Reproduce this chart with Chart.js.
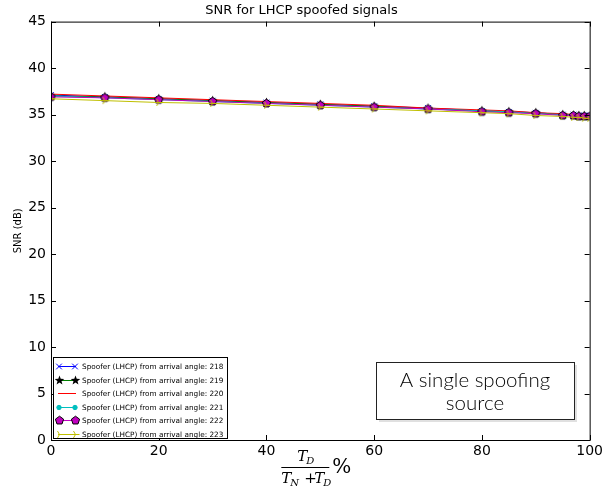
<!DOCTYPE html>
<html lang="en">
<head>
<meta charset="UTF-8">
<title>SNR for LHCP spoofed signals</title>
<script src="https://cdn.jsdelivr.net/npm/chart.js@4.4.1/dist/chart.umd.min.js"></script>
<style>
  html, body { margin: 0; padding: 0; background: #fff; }
  #wrap { width: 606px; height: 491px; }
</style>
</head>
<body>
<div id="wrap"><canvas id="snr" width="606" height="491"></canvas></div>
<script>
// ---------- data ----------
const xPct = [0, 10, 20, 30, 40, 50, 60, 70, 80, 85, 90, 95, 97, 98, 99, 100];
const snr218 = [37.1, 36.9, 36.7, 36.5, 36.3, 36.1, 35.9, 35.7, 35.4, 35.3, 35.2, 35.0, 35.0, 34.9, 34.9, 34.9];
const snr219 = [37.0, 36.9, 36.7, 36.5, 36.3, 36.1, 35.9, 35.6, 35.4, 35.3, 35.2, 35.0, 34.9, 34.9, 34.9, 34.8];
const snr220 = [37.2, 37.0, 36.8, 36.6, 36.4, 36.2, 36.0, 35.7, 35.5, 35.4, 35.2, 35.1, 35.0, 35.0, 34.9, 34.9];
const snr221 = [37.0, 36.8, 36.6, 36.4, 36.2, 36.0, 35.8, 35.6, 35.4, 35.3, 35.1, 35.0, 34.9, 34.9, 34.8, 34.8];
const snr222 = [36.9, 36.8, 36.6, 36.4, 36.2, 36.0, 35.8, 35.6, 35.3, 35.2, 35.1, 34.9, 34.9, 34.8, 34.8, 34.8];
const snr223 = [36.7, 36.5, 36.3, 36.2, 36.0, 35.8, 35.6, 35.4, 35.2, 35.1, 34.9, 34.8, 34.7, 34.7, 34.6, 34.6];
const angles = [218, 219, 220, 221, 222, 223];
const xTicks = [0, 20, 40, 60, 80, 100];
const yTicks = [0, 5, 10, 15, 20, 25, 30, 35, 40, 45];

// ---------- custom marker canvases ----------
function markerCanvas(size, draw) {
  const c = document.createElement('canvas');
  c.width = size; c.height = size;
  const g = c.getContext('2d');
  draw(g, size / 2);
  return c;
}
function polyPath(g, cx, n, r, inner) {
  g.beginPath();
  const steps = inner ? n * 2 : n;
  for (let i = 0; i < steps; i++) {
    const a = -Math.PI / 2 + i * Math.PI * 2 / steps;
    const rr = inner && i % 2 ? inner : r;
    const px = cx + rr * Math.cos(a), py = cx + rr * Math.sin(a);
    i ? g.lineTo(px, py) : g.moveTo(px, py);
  }
  g.closePath();
}
const starMk = markerCanvas(11, (g, c) => {
  polyPath(g, c, 5, 5, 2.1);
  g.fillStyle = '#000'; g.fill();
});
const pentMk = markerCanvas(11, (g, c) => {
  polyPath(g, c, 5, 4.3);
  g.fillStyle = '#bf00bf'; g.fill();
  g.lineWidth = 1; g.strokeStyle = '#000'; g.stroke();
});
const triMk = markerCanvas(11, (g, c) => {
  g.strokeStyle = '#bfbf00'; g.lineWidth = 1;
  g.beginPath();
  [0, 120, 240].forEach(d => {
    const a = d * Math.PI / 180;
    g.moveTo(c, c); g.lineTo(c + 4 * Math.cos(a), c + 4 * Math.sin(a));
  });
  g.stroke();
});

function pts(ys) { return xPct.map((x, i) => ({ x: x, y: ys[i] })); }

const seriesStyle = [
  { data: snr218, color: '#0000ff', point: 'crossRot', radius: 4, bg: '#0000ff', pb: '#0000ff' },
  { data: snr219, color: '#008000', point: starMk, radius: 5, bg: '#000', pb: '#000' },
  { data: snr220, color: '#ff0000', point: 'circle', radius: 0, bg: '#ff0000', pb: '#ff0000' },
  { data: snr221, color: '#00bfbf', point: 'circle', radius: 2.2, bg: '#00bfbf', pb: '#00bfbf' },
  { data: snr222, color: '#bf00bf', point: pentMk, radius: 5, bg: '#bf00bf', pb: '#000' },
  { data: snr223, color: '#bfbf00', point: triMk, radius: 4, bg: '#bfbf00', pb: '#bfbf00' }
];

const datasets = seriesStyle.map((s, i) => ({
  label: 'Spoofer (LHCP) from arrival angle: ' + angles[i],
  data: pts(s.data),
  order: seriesStyle.length - i,
  borderColor: s.color,
  backgroundColor: s.bg,
  borderWidth: 1,
  pointStyle: s.point,
  pointRadius: s.radius,
  pointBorderColor: s.pb,
  pointBackgroundColor: s.bg,
  pointBorderWidth: 1,
  tension: 0
}));

// ---------- plugins ----------
const frame = {
  id: 'frame',
  afterDraw(chart) {
    const { ctx, chartArea: a, scales: { x, y } } = chart;
    ctx.save();
    ctx.strokeStyle = '#000';
    ctx.lineWidth = 1;
    ctx.strokeRect(a.left + 0.5, a.top + 0.5, a.right - a.left, a.bottom - a.top);
    ctx.beginPath();
    xTicks.forEach(v => {
      const px = Math.round(x.getPixelForValue(v)) + 0.5;
      ctx.moveTo(px, a.bottom); ctx.lineTo(px, a.bottom - 5);
      ctx.moveTo(px, a.top); ctx.lineTo(px, a.top + 5);
    });
    yTicks.forEach(v => {
      const py = Math.round(y.getPixelForValue(v)) + 0.5;
      ctx.moveTo(a.left, py); ctx.lineTo(a.left + 5, py);
      ctx.moveTo(a.right, py); ctx.lineTo(a.right - 5, py);
    });
    ctx.stroke();

    // legend box, bottom-left
    const lx = a.left + 2, ly = a.bottom - 83, lw = 174, lh = 81;
    ctx.fillStyle = '#fff';
    ctx.fillRect(lx, ly, lw, lh);
    ctx.strokeRect(lx + 0.5, ly + 0.5, lw, lh);
    ctx.font = '7.3px "DejaVu Sans"';
    ctx.textBaseline = 'middle';
    chart.data.datasets.forEach((ds, i) => {
      const ry = Math.round(ly + 9 + i * 13.5) + 0.5;
      ctx.strokeStyle = ds.borderColor;
      ctx.beginPath(); ctx.moveTo(lx + 5, ry); ctx.lineTo(lx + 23, ry); ctx.stroke();
      const st = ds.pointStyle;
      if (ds.pointRadius > 0) {
        [lx + 6, lx + 22].forEach(mx => {
          if (typeof st === 'string') {
            ctx.fillStyle = ds.pointBackgroundColor;
            ctx.strokeStyle = ds.pointBorderColor;
            Chart.helpers.drawPoint(ctx, { pointStyle: st, radius: ds.pointRadius, borderWidth: 1, rotation: 0 }, mx, ry);
          } else {
            ctx.drawImage(st, Math.round(mx - st.width / 2), Math.round(ry - st.height / 2));
          }
        });
      }
      ctx.fillStyle = '#000';
      ctx.fillText(ds.label, lx + 29, ry + 0.5);
    });

    // annotation box
    const bx = a.left + 325, by = a.bottom - 78, bw = 198, bh = 57;
    ctx.fillStyle = 'rgba(0,0,0,0.12)';
    ctx.fillRect(bx + 3, by + 3, bw, bh);
    ctx.fillStyle = '#fff';
    ctx.fillRect(bx, by, bw, bh);
    ctx.strokeStyle = '#222';
    ctx.strokeRect(bx + 0.5, by + 0.5, bw, bh);
    ctx.fillStyle = '#000';
    ctx.font = '300 20.5px Lato';
    ctx.textAlign = 'center';
    ctx.fillText('A single spoofing', bx + bw / 2, by + 18);
    ctx.fillText('source', bx + bw / 2, by + 41);

    // x axis label: T_D / (T_N + T_D) %
    const cx = (a.left + a.right) / 2 - 15;
    const fy = a.bottom + 27;
    ctx.font = 'italic 15px "DejaVu Serif"';
    ctx.textAlign = 'left';
    ctx.fillText('T', cx - 8, fy - 10);
    ctx.font = 'italic 10px "DejaVu Serif"';
    ctx.fillText('D', cx + 1, fy - 6);
    ctx.beginPath(); ctx.moveTo(cx - 24, fy + 0.5); ctx.lineTo(cx + 24, fy + 0.5); ctx.strokeStyle = '#000'; ctx.stroke();
    ctx.font = 'italic 15px "DejaVu Serif"';
    ctx.fillText('T', cx - 24, fy + 12);
    ctx.font = 'italic 10px "DejaVu Serif"';
    ctx.fillText('N', cx - 15, fy + 16);
    ctx.font = '15px "DejaVu Serif"';
    ctx.fillText('+', cx - 1, fy + 12);
    ctx.font = 'italic 15px "DejaVu Serif"';
    ctx.fillText('T', cx + 9, fy + 12);
    ctx.font = 'italic 10px "DejaVu Serif"';
    ctx.fillText('D', cx + 18, fy + 16);
    ctx.font = '20px "DejaVu Serif"';
    ctx.fillText('%', cx + 27, fy + 1);
    ctx.restore();
  }
};

const ctx = document.getElementById('snr');
new Chart(ctx, {
  type: 'line',
  data: { datasets: datasets },
  plugins: [frame],
  options: {
    responsive: false,
    animation: false,
    events: [],
    layout: { padding: { top: 0, right: 15, left: 12, bottom: 0 } },
    plugins: {
      legend: { display: false },
      tooltip: { enabled: false },
      title: {
        display: true,
        text: 'SNR for LHCP spoofed signals',
        color: '#000',
        font: { family: 'DejaVu Sans', size: 13, weight: 'normal' },
        padding: { top: 3, bottom: 3 }
      }
    },
    scales: {
      x: {
        type: 'linear',
        min: 0, max: 100,
        afterBuildTicks: s => { s.ticks = xTicks.map(v => ({ value: v })); },
        afterFit: s => { s.height = 51; },
        grid: { display: false, drawTicks: false },
        border: { display: false },
        ticks: { color: '#000', font: { family: 'DejaVu Sans', size: 14 }, padding: 3, maxRotation: 0 }
      },
      y: {
        min: 0, max: 45,
        afterBuildTicks: s => { s.ticks = yTicks.map(v => ({ value: v })); },
        afterFit: s => { s.width = 39; },
        grid: { display: false, drawTicks: false },
        border: { display: false },
        title: {
          display: true, text: 'SNR (dB)', color: '#000',
          font: { family: 'DejaVu Sans', size: 10 }, padding: { top: 0, bottom: 0 }
        },
        ticks: { color: '#000', font: { family: 'DejaVu Sans', size: 14 }, padding: 5 }
      }
    }
  }
});
</script>
</body>
</html>
